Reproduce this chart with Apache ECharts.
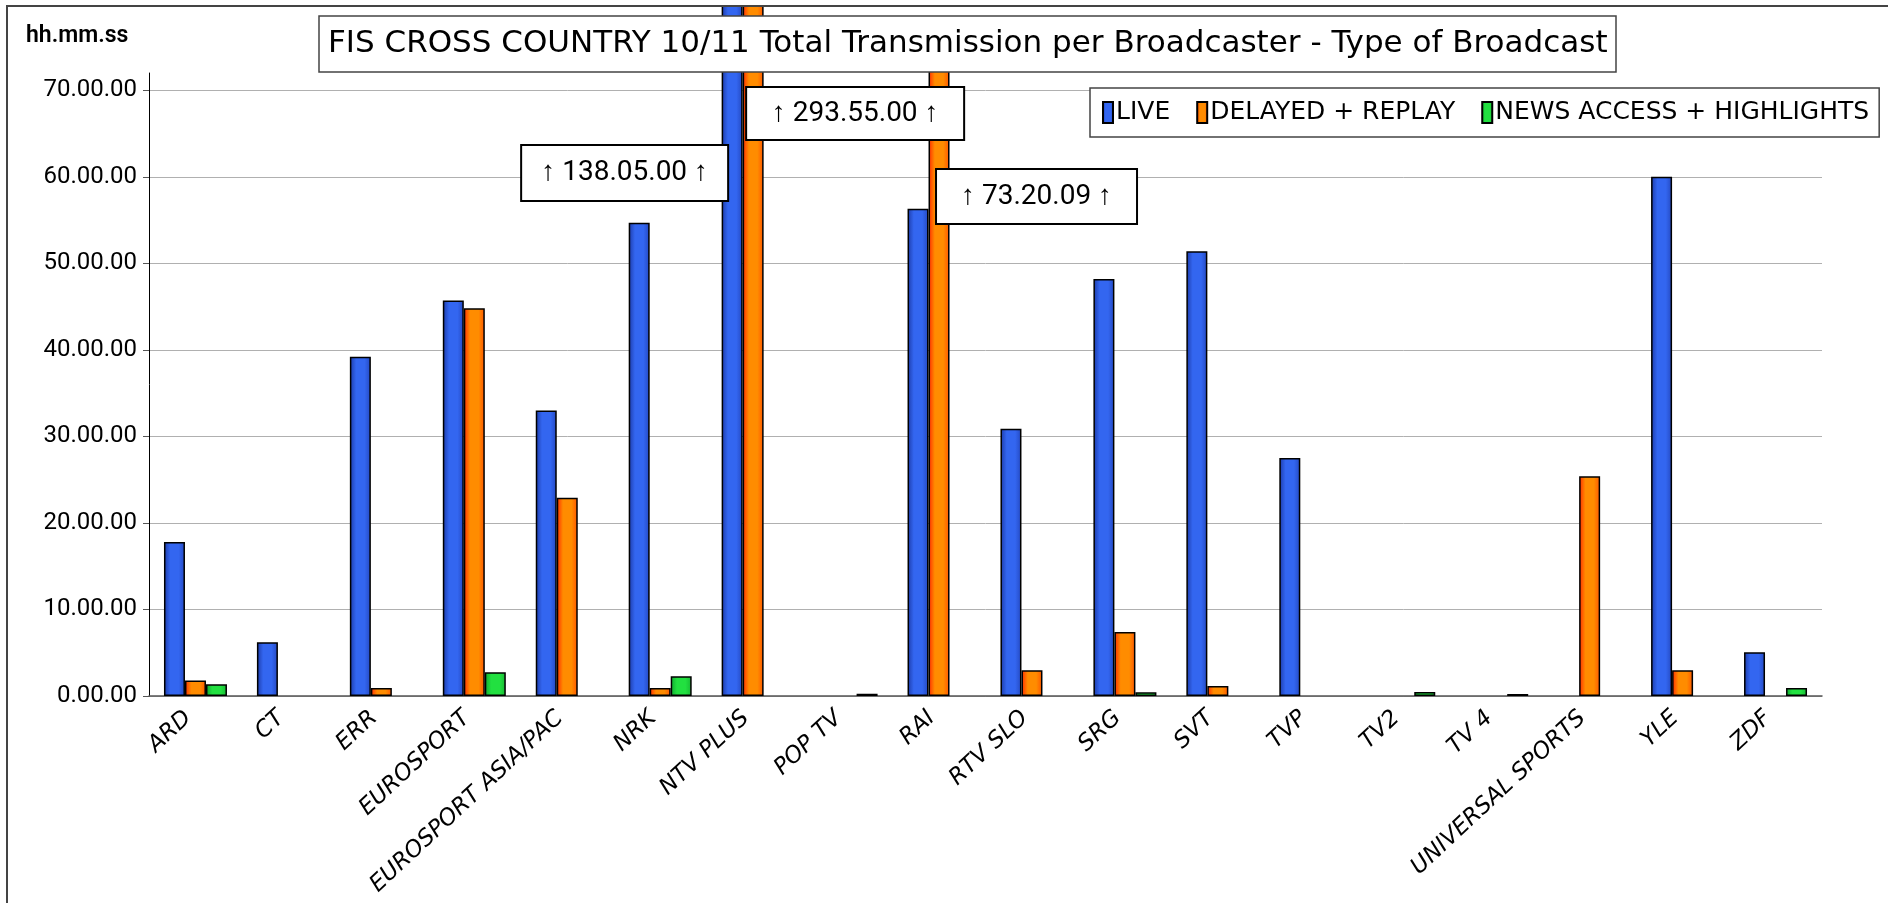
<!DOCTYPE html>
<html>
<head>
<meta charset="utf-8">
<script src="https://cdn.jsdelivr.net/npm/echarts@6/dist/echarts.min.js"></script>
<style>
html, body { margin: 0; padding: 0; background: #fff; }
#chart { width: 1888px; height: 903px; }
</style>
</head>
<body>
<div id="chart"></div>
<script>
// broadcasters
var categories = ['ARD', 'CT', 'ERR', 'EUROSPORT', 'EUROSPORT ASIA/PAC', 'NRK', 'NTV PLUS', 'POP TV', 'RAI',
  'RTV SLO', 'SRG', 'SVT', 'TVP', 'TV2', 'TV 4', 'UNIVERSAL SPORTS', 'YLE', 'ZDF'];
// hours (decimal)
var live    = [17.8, 6.2, 39.2, 45.7, 33.0, 54.7, 138.08, null, 56.3, 30.9, 48.2, 51.4, 27.5, null, null, null, 60.0, 5.05];
var delayed = [1.8, null, 0.92, 44.8, 22.9, 0.92, 293.92, null, 73.34, 2.97, 7.4, 1.15, null, null, null, 25.4, 2.97, null];
var news    = [1.35, null, null, 2.74, null, 2.27, null, 0.25, null, null, 0.43, null, null, 0.46, 0.23, null, null, 0.92];
var seriesNames = ['LIVE', 'DELAYED + REPLAY', 'NEWS ACCESS + HIGHLIGHTS'];
var yTicks = [0, 10, 20, 30, 40, 50, 60, 70];
// off-scale callouts: [category, text]
var callouts = [['NTV PLUS', '↑ 138.05.00 ↑'], ['NTV PLUS', '↑ 293.55.00 ↑'], ['RAI', '↑ 73.20.09 ↑']];

var chart = echarts.init(document.getElementById('chart'));

function grad(edge, mid, edge2) {
  return new echarts.graphic.LinearGradient(0, 0, 1, 0, [
    {offset: 0, color: edge}, {offset: 0.3, color: mid}, {offset: 0.7, color: mid}, {offset: 1, color: edge2}
  ]);
}
var fills = [grad('#1c3aa8', '#3366f0', '#2448c0'), grad('#ff2a00', '#ff8c00', '#ff5500'), grad('#10a830', '#22e040', '#18b834')];
var datas = [live, delayed, news];

var series = seriesNames.map(function (n, i) {
  return {
    name: n,
    type: 'bar',
    data: datas[i],
    barWidth: 21,
    barGap: '0%',
    clip: false,
    itemStyle: {color: fills[i], borderColor: '#000', borderWidth: 1.5},
    emphasis: {disabled: true}
  };
});

chart.setOption({
  animation: false,
  title: {
    text: 'FIS CROSS COUNTRY 10/11 Total Transmission per Broadcaster - Type of Broadcast',
    left: 319, top: 16,
    padding: [12, 9, 13, 9],
    borderColor: '#444', borderWidth: 1.5, backgroundColor: '#fff',
    textStyle: {fontFamily: 'DejaVu Sans', fontSize: 31, fontWeight: 'normal', color: '#000'},
    z: 20
  },
  legend: {
    data: seriesNames,
    icon: 'rect',
    left: 1090, top: 88,
    padding: [12, 10, 12, 12],
    itemGap: 26,
    itemWidth: 10, itemHeight: 21,
    borderColor: '#444', borderWidth: 1.5, backgroundColor: '#fff',
    textStyle: {fontFamily: 'DejaVu Sans', fontSize: 25, color: '#000', padding: [0, 0, 0, -2]},
    z: 20
  },
  grid: {left: 149, right: 66, top: 73, bottom: 207, outerBoundsMode: 'none', containLabel: false},
  xAxis: {
    type: 'category',
    data: categories,
    axisLine: {lineStyle: {color: '#555', width: 1.5}},
    axisTick: {length: 8, lineStyle: {color: '#555'}},
    axisLabel: {
      rotate: 43, interval: 0, margin: 12, padding: [0, 10, 0, 0],
      fontFamily: 'DejaVu Sans', fontStyle: 'italic', fontSize: 23, color: '#000'
    }
  },
  yAxis: {
    type: 'value',
    min: 0, max: 72, interval: 10,
    axisLine: {show: true, lineStyle: {color: '#000'}},
    axisTick: {show: true, length: 6, lineStyle: {color: '#555'}},
    axisLabel: {
      showMaxLabel: false, margin: 12,
      fontFamily: 'Roboto', fontSize: 24, color: '#000',
      formatter: function (v) { return yTicks.indexOf(v) >= 0 ? v + '.00.00' : ''; }
    },
    splitLine: {lineStyle: {color: ['#b0b0b0', '#b0b0b0', '#b0b0b0', '#b0b0b0', '#b0b0b0', '#b0b0b0', '#b0b0b0', '#b0b0b0', 'rgba(0,0,0,0)']}}
  },
  series: series
});

// callout boxes placed relative to their category
var boxOffsets = [[-232, 145, 207, 56], [-7, 87, 218, 53], [-3, 169, 201, 55]];
var graphics = [
  {type: 'rect', shape: {x: 0, y: 0, width: 1888, height: 5}, style: {fill: '#fff'}, z: 30},
  {type: 'rect', shape: {x: 7, y: 6, width: 1900, height: 1000}, style: {fill: 'none', stroke: '#444', lineWidth: 2}, z: 31},
  {type: 'text', x: 26, y: 25, style: {text: 'hh.mm.ss', font: '600 23px Roboto', fill: '#000'}, z: 20}
];
callouts.forEach(function (c, i) {
  var cx = chart.convertToPixel({xAxisIndex: 0}, c[0]);
  var o = boxOffsets[i];
  graphics.push({
    type: 'group', x: cx + o[0], y: o[1], z: 25,
    children: [
      {type: 'rect', shape: {x: 0, y: 0, width: o[2], height: o[3]}, style: {fill: '#fff', stroke: '#000', lineWidth: 2}, z: 25},
      {type: 'text', x: o[2] / 2, y: o[3] / 2, style: {text: c[1], font: '28px Roboto', fill: '#000', align: 'center', verticalAlign: 'middle'}, z: 26}
    ]
  });
});
chart.setOption({graphic: graphics});
</script>
</body>
</html>
